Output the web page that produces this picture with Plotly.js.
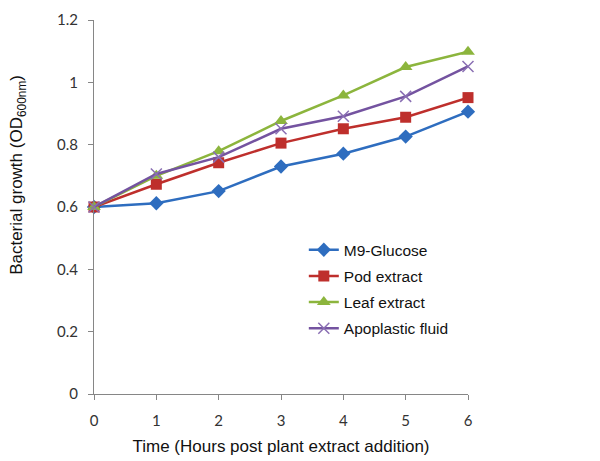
<!DOCTYPE html>
<html>
<head>
<meta charset="utf-8">
<script src="https://cdn.plot.ly/plotly-3.0.1.min.js"></script>
<style>
  html, body { margin: 0; padding: 0; background: #fff; }
  #chart { width: 600px; height: 461px; }
</style>
</head>
<body>
<div id="chart"></div>
<script>
// hours after extract was added
const hours = [0, 1, 2, 3, 4, 5, 6];

// OD600 readings
const m9Glucose   = [0.60, 0.612, 0.651, 0.730, 0.771, 0.826, 0.906];
const podExtract  = [0.60, 0.673, 0.742, 0.805, 0.851, 0.888, 0.951];
const leafExtract = [0.60, 0.700, 0.779, 0.876, 0.958, 1.049, 1.098];
const apoFluid    = [0.60, 0.706, 0.760, 0.851, 0.891, 0.955, 1.051];

const seriesNames = ["M9-Glucose", "Pod extract", "Leaf extract", "Apoplastic fluid"];
const yTicks = [0, 0.2, 0.4, 0.6, 0.8, 1, 1.2];

const makeTrace = (name, y, color, symbol, size, extra) => Object.assign({
    name: name,
    x: hours,
    y: y,
    type: "scatter",
    mode: "lines+markers",
    legendgroup: name,
    cliponaxis: false,
    line: { color: color, width: 2.5 },
    marker: { color: color, symbol: symbol, size: size },
}, extra || {});

const traces = [
    makeTrace(seriesNames[0], m9Glucose, "#2e6dbf", "diamond", 11),
    makeTrace(seriesNames[1], podExtract, "#be2f2c", "square", 11),
    makeTrace(seriesNames[2], leafExtract, "#8cb53d", "triangle-up", 12),
    makeTrace(seriesNames[3], apoFluid, "#7453a0", "x-thin-open", 10, {
        marker: { color: "#8a6fb3", symbol: "x-thin-open", size: 11, line: { width: 1.5, color: "#8a6fb3" } },
    }),
];

const textFont = "'Liberation Sans', Arial, sans-serif";
const tickFont = { family: "Lato, 'Open Sans', sans-serif", size: 15, color: "#333" };

const layout = {
    width: 600,
    height: 461,
    margin: { l: 93.5, r: 132, t: 19.5, b: 66.5, pad: 0 },
    paper_bgcolor: "#fff",
    plot_bgcolor: "#fff",
    showlegend: true,
    legend: {
        x: 0.561,
        y: 0.43,
        xanchor: "left",
        yanchor: "top",
        traceorder: "grouped",
        tracegroupgap: 3,
        font: { family: textFont, size: 15.5, color: "#111" },
        bgcolor: "rgba(0,0,0,0)",
        itemwidth: 30,
    },
    xaxis: {
        range: [0, 6],
        tickvals: hours,
        ticks: "outside",
        ticklen: 5,
        tickcolor: "#868686",
        showline: true,
        linecolor: "#868686",
        linewidth: 1,
        showgrid: false,
        zeroline: false,
        tickfont: tickFont,
        ticklabelstandoff: 8,
        title: {
            text: "Time (Hours post plant extract addition)",
            font: { family: textFont, size: 17, color: "#111" },
            standoff: 12,
        },
    },
    yaxis: {
        range: [0, 1.2],
        tickvals: yTicks,
        ticks: "outside",
        ticklen: 5,
        tickcolor: "#868686",
        showline: true,
        linecolor: "#868686",
        linewidth: 1,
        showgrid: false,
        zeroline: false,
        tickfont: tickFont,
        ticklabelstandoff: 7,
    },
    // y title sits above the axis middle in the original, so place it by hand
    annotations: [{
        text: "Bacterial growth (OD<sub>600nm</sub>)",
        xref: "paper",
        yref: "paper",
        x: -0.2015,
        y: 0.585,
        xanchor: "center",
        yanchor: "middle",
        textangle: -90,
        showarrow: false,
        font: { family: textFont, size: 17, color: "#111" },
    }],
};

Plotly.newPlot("chart", traces, layout, { staticPlot: true });
</script>
</body>
</html>
